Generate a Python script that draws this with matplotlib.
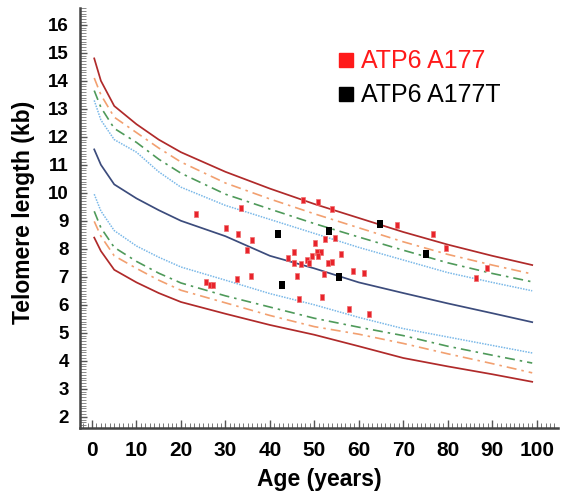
import matplotlib
matplotlib.use("Agg")
import matplotlib.pyplot as plt
from matplotlib.patches import Rectangle
from matplotlib.ticker import MultipleLocator

plt.rcParams['font.family'] = ['Liberation Sans', 'DejaVu Sans']

# ---- percentile curves (kb) ----
ages = [0.5, 2, 5, 10, 15, 20, 30, 40, 50, 60, 70, 80, 90, 99]
p99 = [14.8, 14.0, 13.1, 12.45, 11.9, 11.45, 10.75, 10.15, 9.6, 9.1, 8.6, 8.15, 7.75, 7.42]
p95 = [14.1, 13.5, 12.7, 12.15, 11.6, 11.1, 10.35, 9.78, 9.25, 8.75, 8.25, 7.8, 7.42, 7.1]
p90 = [13.65, 13.05, 12.3, 11.8, 11.2, 10.7, 9.95, 9.42, 8.9, 8.42, 7.95, 7.5, 7.12, 6.82]
p75 = [13.3, 12.6, 11.9, 11.45, 10.75, 10.2, 9.55, 9.05, 8.55, 8.05, 7.6, 7.15, 6.8, 6.5]
p50 = [11.55, 11.0, 10.3, 9.8, 9.38, 9.0, 8.45, 7.75, 7.3, 6.8, 6.42, 6.05, 5.7, 5.38]
p25 = [9.95, 9.35, 8.65, 8.1, 7.7, 7.35, 6.88, 6.4, 6.0, 5.55, 5.15, 4.85, 4.55, 4.28]
p10 = [9.34, 8.75, 8.05, 7.55, 7.13, 6.78, 6.32, 5.92, 5.52, 5.2, 4.9, 4.52, 4.2, 3.92]
p5 = [8.98, 8.45, 7.75, 7.3, 6.88, 6.52, 6.07, 5.62, 5.22, 4.95, 4.62, 4.25, 3.9, 3.57]
p1 = [8.4, 7.92, 7.25, 6.8, 6.42, 6.1, 5.68, 5.28, 4.93, 4.52, 4.1, 3.8, 3.52, 3.25]

# ---- patients ----
a177_age = [23.3, 33.5, 47.5, 50.9, 53.9, 30.2, 32.9, 36.0, 34.9, 50.1, 52.4, 54.7,
            45.4, 44.1, 45.4, 46.9, 48.3, 48.7, 49.4, 50.5, 51.5, 50.8, 53.1, 53.9,
            55.9, 58.6, 61.2, 52.1, 46.0, 32.7, 35.7, 25.7, 26.5, 27.2, 46.6, 51.7,
            57.8, 62.2, 68.6, 76.7, 79.6, 88.8, 86.3]
a177_tl = [9.24, 9.45, 9.74, 9.66, 9.42, 8.74, 8.54, 8.33, 7.94, 8.22, 8.36, 8.40,
           7.87, 7.68, 7.50, 7.45, 7.60, 7.49, 7.74, 7.89, 7.87, 7.75, 7.49, 7.53,
           7.82, 7.22, 7.13, 7.10, 7.02, 6.92, 7.02, 6.81, 6.71, 6.71, 6.20, 6.27,
           5.86, 5.66, 8.85, 8.53, 8.04, 7.33, 6.97]
a177t_age = [41.8, 42.8, 53.2, 55.5, 64.7, 75.1]
a177t_tl = [8.53, 6.72, 8.64, 7.01, 8.89, 7.82]

legend_labels = ["ATP6 A177", "ATP6 A177T"]
legend_colors = ["#ff1a1a", "#000000"]
xticks = [0, 10, 20, 30, 40, 50, 60, 70, 80, 90, 100]
yticks = list(range(2, 17))

W, H = 561, 497
fig = plt.figure(figsize=(W / 100, H / 100), dpi=100)
ax = fig.add_axes([80 / W, 1 - 428 / H, (558 - 80) / W, (428 - 8) / H])

red = "#b02a2a"
orange = "#f2a070"
green = "#4f9a5a"
blue = "#7ab8e8"
navy = "#3c4c7c"
dashdot = (0, (6, 3, 1.5, 3))
dotted = (0, (1, 0.8))

ax.plot(ages, p99, color=red, lw=1.25)
ax.plot(ages, p95, color=orange, lw=1.2, ls=dashdot)
ax.plot(ages, p90, color=green, lw=1.2, ls=dashdot)
ax.plot(ages, p75, color=blue, lw=1.1, ls=dotted)
ax.plot(ages, p50, color=navy, lw=1.25)
ax.plot(ages, p25, color=blue, lw=1.1, ls=dotted)
ax.plot(ages, p10, color=green, lw=1.2, ls=dashdot)
ax.plot(ages, p5, color=orange, lw=1.2, ls=dashdot)
ax.plot(ages, p1, color=red, lw=1.25)

rect = [(-0.3, -0.5), (0.3, -0.5), (0.3, 0.5), (-0.3, 0.5), (-0.3, -0.5)]
rect_b = [(-0.36, -0.5), (0.36, -0.5), (0.36, 0.5), (-0.36, 0.5), (-0.36, -0.5)]
ax.plot(a177_age, a177_tl, ls='none', marker=rect, ms=4.8, color="#e8232b",
        markeredgecolor="#f07070", markeredgewidth=0.5, zorder=5)
ax.plot(a177t_age, a177t_tl, ls='none', marker=rect_b, ms=5.6, color="#000000",
        markeredgewidth=0, zorder=6)

ax.set_xlim(-2.7, 104.8)
ax.set_ylim(1.6, 16.6)
ax.set_xticks(xticks)
ax.set_yticks(yticks)
ax.xaxis.set_minor_locator(MultipleLocator(1))
ax.yaxis.set_minor_locator(MultipleLocator(0.1))
ax.tick_params(axis='x', which='major', direction='in', length=6, width=1.0,
               color='#555555', labelsize=15, pad=9)
ax.tick_params(axis='x', which='minor', direction='in', length=3.5, width=0.7,
               color='#777777')
ax.tick_params(axis='y', which='major', direction='in', length=5, width=1.0,
               color='#555555', labelsize=13.5, pad=8)
ax.tick_params(axis='y', which='minor', direction='in', length=4, width=0.6,
               color='#777777')
for lab in ax.get_xticklabels() + ax.get_yticklabels():
    lab.set_fontweight('bold')

for s in ['top', 'right']:
    ax.spines[s].set_visible(False)
for s in ['left', 'bottom']:
    ax.spines[s].set_color('#444444')
    ax.spines[s].set_linewidth(1.8)

ax.set_xlabel("Age (years)", fontsize=16.5, fontweight='bold', labelpad=6)
fig.text(24 / W, 1 - 212 / H, "Telomere length (kb)", rotation=90, fontsize=16.5,
         fontweight='bold', ha='center', va='center')

# legend
for i, (lab, col) in enumerate(zip(legend_labels, legend_colors)):
    yc = 60 + i * 34
    fig.patches.append(Rectangle((339 / W, 1 - (yc + 6.7) / H), 13.7 / W, 13.4 / H,
                                 transform=fig.transFigure, color=col, figure=fig))
    fig.text(361 / W, 1 - (yc + 1) / H, lab, color=col, fontsize=18,
             ha='left', va='center')

fig.savefig("out.png", dpi=100)
